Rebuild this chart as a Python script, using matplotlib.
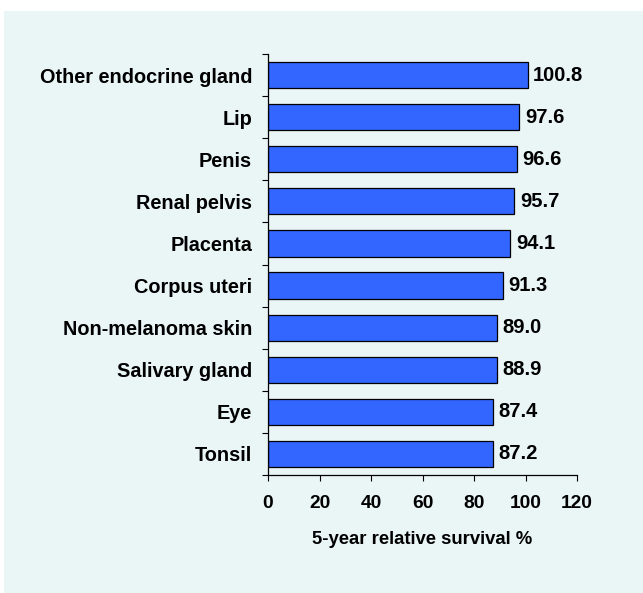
import matplotlib.pyplot as plt
from matplotlib.patches import Rectangle

# data (top to bottom as in the chart)
sites = ['Other endocrine gland', 'Lip', 'Penis', 'Renal pelvis', 'Placenta',
         'Corpus uteri', 'Non-melanoma skin', 'Salivary gland', 'Eye', 'Tonsil']
survival = [100.8, 97.6, 96.6, 95.7, 94.1, 91.3, 89.0, 88.9, 87.4, 87.2]
xticks = [0, 20, 40, 60, 80, 100, 120]

plt.rcParams['font.family'] = ['Liberation Sans', 'DejaVu Sans']
plt.rcParams['font.weight'] = 'bold'

fig = plt.figure(figsize=(6.43, 5.93), dpi=100)
fig.patch.set_facecolor('white')
# light panel behind the chart
fig.patches.append(Rectangle((4 / 643, 0), 1, (593 - 11) / 593, transform=fig.transFigure,
                             facecolor='#EAF5F6', edgecolor='none', zorder=-10))

ax = fig.add_axes([268 / 643, 1 - 475 / 593, (577 - 268) / 643, (475 - 54) / 593])
ax.set_facecolor('none')

y = list(range(len(sites)))[::-1]
bars = ax.barh(y, survival, height=0.62, color='#3366FF', edgecolor='black', linewidth=0.9)
ax.bar_label(bars, labels=[f'{v:.1f}' for v in survival], padding=4,
             fontsize=14.5, fontweight='bold')

ax.set_ylim(-0.5, len(sites) - 0.5)
ax.set_xlim(0, 120)
ax.set_yticks(y, labels=sites)
ax.set_yticks([i - 0.5 for i in range(len(sites) + 1)], minor=True)
ax.tick_params(axis='y', which='major', length=0, pad=11.5, labelsize=14.3)
ax.tick_params(axis='y', which='minor', length=4.3, width=0.8, direction='out')
ax.set_xticks(xticks, labels=[str(t) for t in xticks])
ax.tick_params(axis='x', length=4.3, width=0.8, direction='out', pad=10, labelsize=13.8)

for s in ['top', 'right']:
    ax.spines[s].set_visible(False)
for s in ['left', 'bottom']:
    ax.spines[s].set_linewidth(0.9)

ax.set_xlabel('5-year relative survival %', fontsize=13.3, fontweight='bold', labelpad=14)

fig.savefig('out.png', dpi=100)
